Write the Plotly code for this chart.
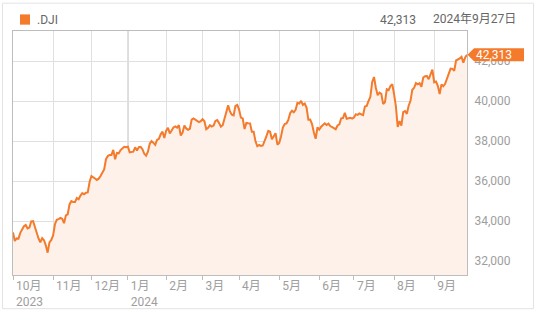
import pandas as pd
import plotly.graph_objects as go

# ---- data (daily closes, .DJI, Oct 2023 - Sep 2024) ----
oct23 = [33433, 33002, 33129, 33119, 33407, 33604, 33739, 33804, 33631, 33670, 33985,
         33998, 33665, 33414, 33127, 32936, 33141, 33036, 32785, 32418, 32929, 33053]
nov23 = [33275, 33839, 34061, 34096, 34153, 34112, 33892, 34283, 34337, 34828, 34991,
         34945, 34947, 35151, 35088, 35273, 35390, 35333, 35416, 35430, 35951]
dec23 = [36245, 36204, 36125, 36055, 36117, 36248, 36404, 36578, 37090, 37248, 37306,
         37306, 37558, 37083, 37405, 37386, 37545, 37657, 37711, 37690]
jan24 = [37715, 37431, 37440, 37466, 37683, 37525, 37696, 37711, 37593, 37361, 37267,
         37469, 37863, 38001, 37905, 37806, 38049, 38109, 38333, 38467, 38150]
feb24 = [38519, 38654, 38380, 38521, 38677, 38726, 38671, 38797, 38273, 38424, 38773,
         38628, 38564, 38612, 39069, 39131, 39069, 38972, 38949, 38996]
mar24 = [39087, 38990, 38585, 38661, 38791, 38723, 38770, 39005, 39044, 38906, 38715,
         38790, 39111, 39512, 39781, 39476, 39314, 39282, 39760, 39807]
apr24 = [39567, 39170, 39127, 38597, 38904, 38892, 38884, 38462, 38459, 37983, 37735,
         37799, 37753, 37775, 37986, 38240, 38504, 38461, 38086, 38240, 38386, 37816]
may24 = [37903, 38226, 38676, 38852, 38884, 39056, 39388, 39513, 39432, 39558, 39908,
         39869, 40004, 39807, 39873, 39671, 39065, 39070, 38853, 38442, 38112, 38686]
jun24 = [38571, 38712, 38807, 38886, 38799, 38868, 38747, 38712, 38647, 38589, 38778,
         38834, 39134, 39150, 39411, 39112, 39127, 39164, 39118]
jul24 = [39170, 39331, 39308, 39375, 39344, 39291, 39721, 39753, 40001, 40211, 40954,
         41198, 40665, 40288, 40415, 40358, 39854, 39935, 40589, 40539, 40743, 40842]
aug24 = [40347, 39737, 38703, 38997, 38763, 39446, 39497, 39357, 39765, 40008, 40563,
         40659, 40896, 40834, 40890, 40712, 41175, 41240, 41250, 41091, 41335, 41563]
sep24 = [40937, 40975, 40755, 40345, 40830, 40737, 40861, 41097, 41394, 41622, 41606,
         41504, 42025, 42063, 42125, 42208, 41915, 42175, 42313]

holidays = ["2023-11-23", "2023-12-25", "2024-01-01", "2024-01-15", "2024-02-19",
            "2024-03-29", "2024-05-27", "2024-06-19", "2024-07-04", "2024-09-02"]
start_date, end_date = "2023-10-02", "2024-09-27"

month_labels = ["10月<br>2023", "11月", "12月", "1月<br>2024", "2月", "3月", "4月",
                "5月", "6月", "7月", "8月", "9月"]
y_ticks = [32000, 34000, 36000, 38000, 40000, 42000]
symbol = ".DJI"
last_label = "42,313"
date_label = "2024年9月27日"

closes = oct23 + nov23 + dec23 + jan24 + feb24 + mar24 + apr24 + may24 + jun24 + jul24 + aug24 + sep24
dates = pd.bdate_range(start_date, end_date, freq="C", holidays=holidays)
xs = [d.strftime("%Y-%m-%d") for d in dates]
n = min(len(xs), len(closes))
xs, closes = xs[:n], closes[:n]

# first trading day of each month
tickvals, seen = [], set()
for d in xs:
    key = d[:7]
    if key not in seen:
        seen.add(key)
        tickvals.append(d)
year_start = [d for d in tickvals if d.startswith("2024-01")][0]

ORANGE = "#f47a2c"
FILL = "#fdf1e9"
GRID = "#e0e0e0"
AXIS = "#bdbdbd"
TXT = "#9e9e9e"
FONT = "Roboto, 'Noto Sans CJK JP', sans-serif"

fig = go.Figure()
fig.add_trace(go.Scatter(x=xs, y=closes, mode="lines",
                         line=dict(color=ORANGE, width=2),
                         fill="tozeroy", fillcolor=FILL, hoverinfo="skip"))

W, H = 536, 321
ml, mr, mt, mb = 13, 69, 31, 40
pw, ph = W - ml - mr, H - mt - mb

fig.update_layout(
    width=W, height=H,
    margin=dict(l=ml, r=mr, t=mt, b=mb),
    paper_bgcolor="white", plot_bgcolor="white",
    showlegend=False,
    font=dict(family=FONT, size=12, color=TXT),
    xaxis=dict(type="category", range=[0, n - 1],
               tickmode="array", tickvals=tickvals, ticktext=month_labels,
               ticks="outside", ticklen=4, tickcolor=AXIS,
               ticklabelposition="outside right", ticklabelshift=2,
               showgrid=True, gridcolor=GRID, gridwidth=1,
               showline=True, linecolor=AXIS, linewidth=1, mirror=True,
               tickfont=dict(size=12, color=TXT), zeroline=False),
    yaxis=dict(side="right", range=[31300, 43500],
               tickmode="array", tickvals=y_ticks,
               tickformat=",d", ticks="", ticklabelstandoff=4,
               showgrid=True, gridcolor=GRID, gridwidth=1,
               showline=True, linecolor=AXIS, linewidth=1, mirror=True,
               tickfont=dict(size=12, color=TXT), zeroline=False),
)

def px_x(px):
    return (px - ml) / pw

def px_y(py):
    return (H - mb - py) / ph

shapes = [
    # outer frame
    dict(type="rect", xref="paper", yref="paper",
         x0=px_x(2.5), x1=px_x(533.5), y0=px_y(315.5), y1=px_y(2.5),
         line=dict(color="#e3e3e3", width=1), fillcolor="rgba(0,0,0,0)", layer="below"),
    # year boundary line
    dict(type="line", xref="x", yref="paper", x0=year_start, x1=year_start, y0=0, y1=1,
         line=dict(color="#a0a0a0", width=1), layer="below"),
    # legend swatch
    dict(type="rect", xref="paper", yref="paper",
         x0=px_x(20), x1=px_x(30), y0=px_y(24.5), y1=px_y(14),
         line=dict(width=0), fillcolor=ORANGE),
    # last-value tag
    dict(type="path", xref="paper", yref="y", xsizemode="pixel", ysizemode="pixel",
         xanchor=1, yanchor=closes[-1],
         path="M0.5,0 L7,6.5 L57,6.5 L57,-6.5 L7,-6.5 Z",
         fillcolor=ORANGE, line=dict(width=0), layer="above"),
]
fig.update_layout(shapes=shapes)

annotations = [
    dict(text=symbol, xref="paper", yref="paper", x=px_x(34.5), y=px_y(19.5),
         xanchor="left", yanchor="middle", showarrow=False,
         font=dict(size=12, color="#666666", family=FONT)),
    dict(text=last_label, xref="paper", yref="paper", x=px_x(417.5), y=px_y(19.5),
         xanchor="right", yanchor="middle", showarrow=False,
         font=dict(size=12, color="#666666", family=FONT)),
    dict(text=date_label, xref="paper", yref="paper", x=px_x(517.5), y=px_y(18.5),
         xanchor="right", yanchor="middle", showarrow=False,
         font=dict(size=12, color="#666666", family=FONT)),
    dict(text=f"{closes[-1]:,}", xref="paper", yref="y", x=1, y=closes[-1],
         xanchor="left", yanchor="middle", xshift=7, showarrow=False,
         font=dict(size=12, color="white", family=FONT)),
]
fig.update_layout(annotations=annotations)

fig.write_html("out.html")
